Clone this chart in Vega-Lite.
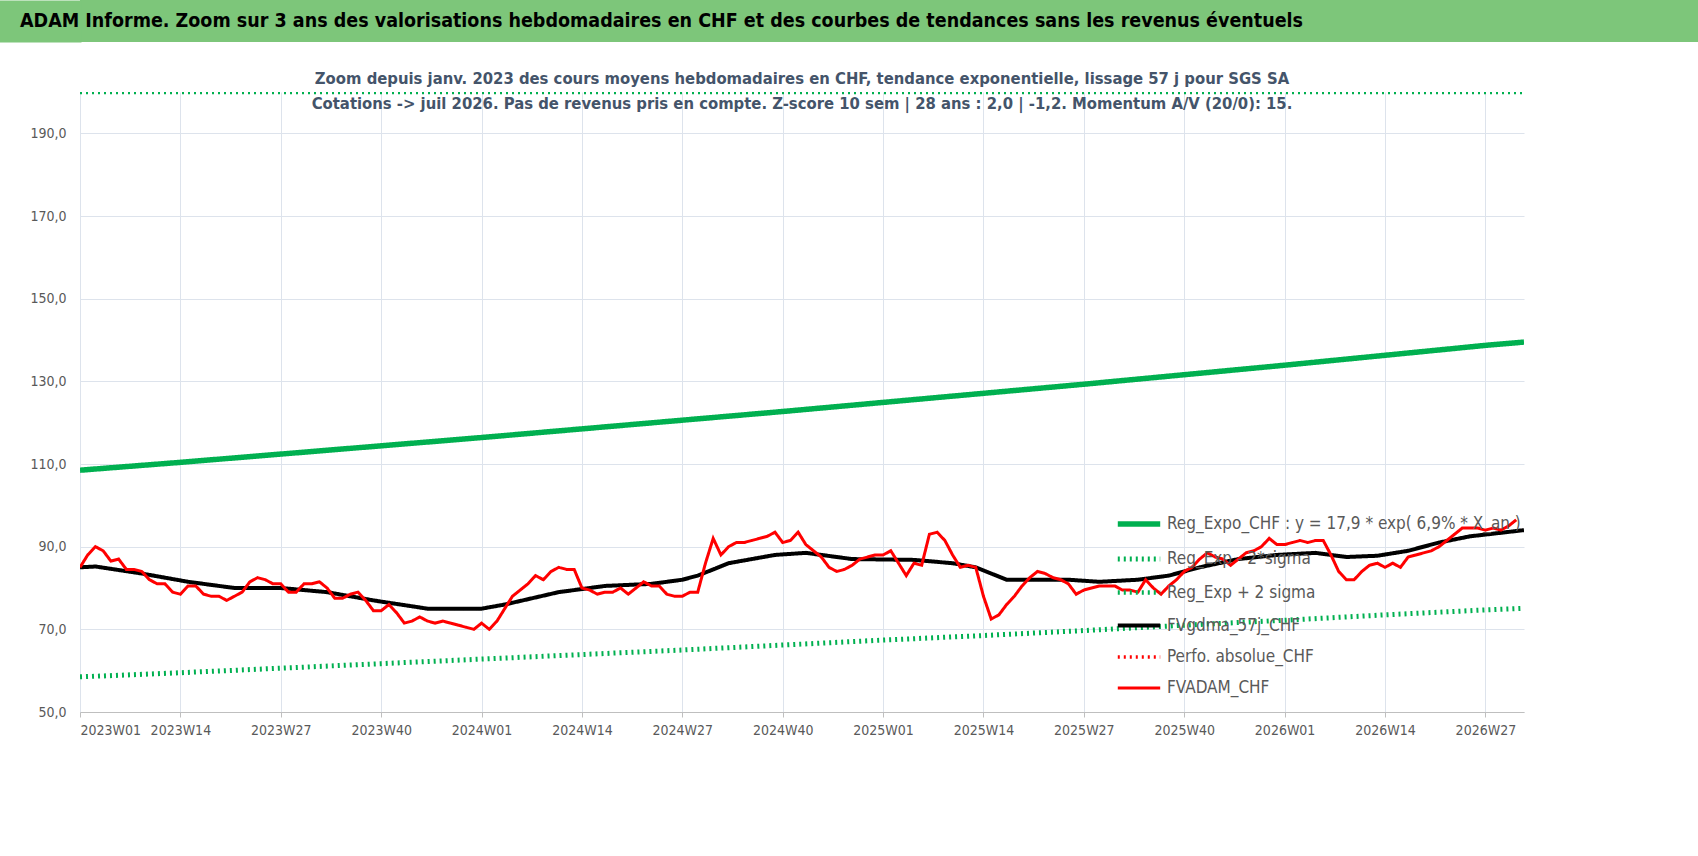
{
  "$schema": "https://vega.github.io/schema/vega-lite/v6.json",
  "background": "white",
  "padding": 0,
  "spacing": 28,
  "config": {
    "font": "Liberation Sans Narrow, DejaVu Sans Condensed, sans-serif",
    "view": {"stroke": null}
  },
  "datasets": {
    "series": [
      {"s":"E","i":0,"v":108.5},{"s":"E","i":13,"v":110.4},{"s":"E","i":26,"v":112.4},{"s":"E","i":39,"v":114.4},{"s":"E","i":52,"v":116.4},{"s":"E","i":65,"v":118.5},{"s":"E","i":78,"v":120.6},{"s":"E","i":91,"v":122.7},{"s":"E","i":104,"v":124.9},{"s":"E","i":117,"v":127.1},{"s":"E","i":130,"v":129.3},{"s":"E","i":143,"v":131.6},{"s":"E","i":156,"v":133.9},{"s":"E","i":169,"v":136.3},{"s":"E","i":182,"v":138.7},{"s":"E","i":187,"v":139.5},
      {"s":"L","i":0,"v":58.5},{"s":"L","i":13,"v":59.5},{"s":"L","i":26,"v":60.6},{"s":"L","i":39,"v":61.7},{"s":"L","i":52,"v":62.8},{"s":"L","i":65,"v":63.9},{"s":"L","i":78,"v":65.0},{"s":"L","i":91,"v":66.2},{"s":"L","i":104,"v":67.4},{"s":"L","i":117,"v":68.5},{"s":"L","i":130,"v":69.7},{"s":"L","i":143,"v":71.0},{"s":"L","i":156,"v":72.2},{"s":"L","i":169,"v":73.5},{"s":"L","i":182,"v":74.7},{"s":"L","i":187,"v":75.1},
      {"s":"U","i":0,"v":201},{"s":"U","i":52,"v":216},{"s":"U","i":104,"v":231},{"s":"U","i":156,"v":248},{"s":"U","i":187,"v":259},
      {"s":"F","i":0,"v":85},{"s":"F","i":2,"v":85.2},{"s":"F","i":8,"v":83.5},{"s":"F","i":14,"v":81.5},{"s":"F","i":20,"v":80},{"s":"F","i":26,"v":80},{"s":"F","i":32,"v":79},{"s":"F","i":38,"v":77},{"s":"F","i":45,"v":75},{"s":"F","i":52,"v":75},{"s":"F","i":55,"v":76},{"s":"F","i":62,"v":79},{"s":"F","i":68,"v":80.5},{"s":"F","i":74,"v":81},{"s":"F","i":78,"v":82},{"s":"F","i":80,"v":83},{"s":"F","i":84,"v":86},{"s":"F","i":90,"v":88},{"s":"F","i":94,"v":88.5},{"s":"F","i":100,"v":87},{"s":"F","i":108,"v":86.8},{"s":"F","i":113,"v":86},{"s":"F","i":116,"v":85},{"s":"F","i":120,"v":82},{"s":"F","i":128,"v":82},{"s":"F","i":132,"v":81.5},{"s":"F","i":137,"v":82},{"s":"F","i":141,"v":83},{"s":"F","i":145,"v":85},{"s":"F","i":150,"v":87},{"s":"F","i":155,"v":88},{"s":"F","i":160,"v":88.5},{"s":"F","i":164,"v":87.5},{"s":"F","i":168,"v":87.8},{"s":"F","i":172,"v":89},{"s":"F","i":176,"v":91},{"s":"F","i":180,"v":92.5},{"s":"F","i":187,"v":94}
    ],
    "adam": [
      {"s":"R","i":0,"v":85},{"s":"R","i":1,"v":88},{"s":"R","i":2,"v":90},{"s":"R","i":3,"v":89},{"s":"R","i":4,"v":86.5},{"s":"R","i":5,"v":87},{"s":"R","i":6,"v":84.5},{"s":"R","i":7,"v":84.5},{"s":"R","i":8,"v":84},{"s":"R","i":9,"v":82},{"s":"R","i":10,"v":81},{"s":"R","i":11,"v":81},{"s":"R","i":12,"v":79},{"s":"R","i":13,"v":78.5},{"s":"R","i":14,"v":80.5},{"s":"R","i":15,"v":80.5},{"s":"R","i":16,"v":78.5},{"s":"R","i":17,"v":78},{"s":"R","i":18,"v":78},{"s":"R","i":19,"v":77},{"s":"R","i":20,"v":78},{"s":"R","i":21,"v":79},{"s":"R","i":22,"v":81.5},{"s":"R","i":23,"v":82.5},{"s":"R","i":24,"v":82},{"s":"R","i":25,"v":81},{"s":"R","i":26,"v":81},{"s":"R","i":27,"v":79},{"s":"R","i":28,"v":79},{"s":"R","i":29,"v":81},{"s":"R","i":30,"v":81},{"s":"R","i":31,"v":81.5},{"s":"R","i":32,"v":80},{"s":"R","i":33,"v":77.5},{"s":"R","i":34,"v":77.5},{"s":"R","i":35,"v":78.5},{"s":"R","i":36,"v":79},{"s":"R","i":37,"v":77},{"s":"R","i":38,"v":74.5},{"s":"R","i":39,"v":74.5},{"s":"R","i":40,"v":76},{"s":"R","i":41,"v":74},{"s":"R","i":42,"v":71.5},{"s":"R","i":43,"v":72},{"s":"R","i":44,"v":73},{"s":"R","i":45,"v":72},{"s":"R","i":46,"v":71.5},{"s":"R","i":47,"v":72},{"s":"R","i":48,"v":71.5},{"s":"R","i":49,"v":71},{"s":"R","i":50,"v":70.5},{"s":"R","i":51,"v":70},{"s":"R","i":52,"v":71.5},{"s":"R","i":53,"v":70},{"s":"R","i":54,"v":72},{"s":"R","i":55,"v":75},{"s":"R","i":56,"v":78},{"s":"R","i":57,"v":79.5},{"s":"R","i":58,"v":81},{"s":"R","i":59,"v":83},{"s":"R","i":60,"v":82},{"s":"R","i":61,"v":84},{"s":"R","i":62,"v":85},{"s":"R","i":63,"v":84.5},{"s":"R","i":64,"v":84.5},{"s":"R","i":65,"v":80},{"s":"R","i":66,"v":79.5},{"s":"R","i":67,"v":78.5},{"s":"R","i":68,"v":79},{"s":"R","i":69,"v":79},{"s":"R","i":70,"v":80},{"s":"R","i":71,"v":78.5},{"s":"R","i":72,"v":80},{"s":"R","i":73,"v":81.5},{"s":"R","i":74,"v":80.5},{"s":"R","i":75,"v":80.5},{"s":"R","i":76,"v":78.5},{"s":"R","i":77,"v":78},{"s":"R","i":78,"v":78},{"s":"R","i":79,"v":79},{"s":"R","i":80,"v":79},{"s":"R","i":81,"v":86},{"s":"R","i":82,"v":92},{"s":"R","i":83,"v":88},{"s":"R","i":84,"v":90},{"s":"R","i":85,"v":91},{"s":"R","i":86,"v":91},{"s":"R","i":87,"v":91.5},{"s":"R","i":88,"v":92},{"s":"R","i":89,"v":92.5},{"s":"R","i":90,"v":93.5},{"s":"R","i":91,"v":91},{"s":"R","i":92,"v":91.5},{"s":"R","i":93,"v":93.5},{"s":"R","i":94,"v":90.5},{"s":"R","i":95,"v":89},{"s":"R","i":96,"v":87.5},{"s":"R","i":97,"v":85},{"s":"R","i":98,"v":84},{"s":"R","i":99,"v":84.5},{"s":"R","i":100,"v":85.5},{"s":"R","i":101,"v":87},{"s":"R","i":102,"v":87.5},{"s":"R","i":103,"v":88},{"s":"R","i":104,"v":88},{"s":"R","i":105,"v":89},{"s":"R","i":106,"v":86},{"s":"R","i":107,"v":83},{"s":"R","i":108,"v":86},{"s":"R","i":109,"v":85.5},{"s":"R","i":110,"v":93},{"s":"R","i":111,"v":93.5},{"s":"R","i":112,"v":91.5},{"s":"R","i":113,"v":88},{"s":"R","i":114,"v":85},{"s":"R","i":115,"v":85.5},{"s":"R","i":116,"v":85},{"s":"R","i":117,"v":78},{"s":"R","i":118,"v":72.5},{"s":"R","i":119,"v":73.5},{"s":"R","i":120,"v":76},{"s":"R","i":121,"v":78},{"s":"R","i":122,"v":80.5},{"s":"R","i":123,"v":82.5},{"s":"R","i":124,"v":84},{"s":"R","i":125,"v":83.5},{"s":"R","i":126,"v":82.5},{"s":"R","i":127,"v":82},{"s":"R","i":128,"v":81},{"s":"R","i":129,"v":78.5},{"s":"R","i":130,"v":79.5},{"s":"R","i":131,"v":80},{"s":"R","i":132,"v":80.5},{"s":"R","i":133,"v":80.5},{"s":"R","i":134,"v":80.5},{"s":"R","i":135,"v":79.5},{"s":"R","i":136,"v":79.5},{"s":"R","i":137,"v":79},{"s":"R","i":138,"v":82},{"s":"R","i":139,"v":80},{"s":"R","i":140,"v":78.5},{"s":"R","i":141,"v":80.5},{"s":"R","i":142,"v":82},{"s":"R","i":143,"v":84},{"s":"R","i":144,"v":85},{"s":"R","i":145,"v":87},{"s":"R","i":146,"v":88.5},{"s":"R","i":147,"v":87.5},{"s":"R","i":148,"v":87},{"s":"R","i":149,"v":85.5},{"s":"R","i":150,"v":87},{"s":"R","i":151,"v":88.5},{"s":"R","i":152,"v":89},{"s":"R","i":153,"v":90},{"s":"R","i":154,"v":92},{"s":"R","i":155,"v":90.5},{"s":"R","i":156,"v":90.5},{"s":"R","i":157,"v":91},{"s":"R","i":158,"v":91.5},{"s":"R","i":159,"v":91},{"s":"R","i":160,"v":91.5},{"s":"R","i":161,"v":91.5},{"s":"R","i":162,"v":88},{"s":"R","i":163,"v":84},{"s":"R","i":164,"v":82},{"s":"R","i":165,"v":82},{"s":"R","i":166,"v":84},{"s":"R","i":167,"v":85.5},{"s":"R","i":168,"v":86},{"s":"R","i":169,"v":85},{"s":"R","i":170,"v":86},{"s":"R","i":171,"v":85},{"s":"R","i":172,"v":87.5},{"s":"R","i":173,"v":88},{"s":"R","i":174,"v":88.5},{"s":"R","i":175,"v":89},{"s":"R","i":176,"v":90},{"s":"R","i":177,"v":91.5},{"s":"R","i":178,"v":93},{"s":"R","i":179,"v":94.5},{"s":"R","i":180,"v":94.5},{"s":"R","i":181,"v":94.5},{"s":"R","i":182,"v":94},{"s":"R","i":183,"v":94.5},{"s":"R","i":184,"v":94},{"s":"R","i":185,"v":95},{"s":"R","i":186,"v":96.5}
    ]
  },
  "vconcat": [
    {
      "width": 1618,
      "height": 42,
      "view": {"fill": "#7dc67a", "stroke": null},
      "data": {"values": [{"t": "ADAM Informe. Zoom sur 3 ans des valorisations hebdomadaires en CHF et des courbes de tendances sans les revenus éventuels"}]},
      "mark": {"type": "text", "align": "left", "baseline": "middle", "fontSize": 19.5, "fontWeight": "bold", "color": "black", "dx": -60},
      "encoding": {
        "text": {"field": "t"},
        "y": {"field": "t", "type": "nominal", "axis": {"title": null, "labels": false, "ticks": false, "domainColor": "#7dc67a", "domainWidth": 82, "offset": 40, "minExtent": 40, "maxExtent": 40}},
        "x": {"value": 0}
      }
    },
    {
      "width": 1444,
      "height": 620,
      "title": {
        "text": ["Zoom depuis janv. 2023 des cours moyens hebdomadaires en CHF, tendance exponentielle, lissage 57 j pour SGS SA", "Cotations -> juil 2026. Pas de revenus pris en compte. Z-score 10 sem | 28 ans : 2,0 | -1,2. Momentum A/V (20/0): 15."],
        "fontSize": 16.5,
        "fontWeight": "bold",
        "color": "#44546a",
        "lineHeight": 25,
        "offset": -20,
        "anchor": "middle"
      },
      "encoding": {
        "x": {
          "field": "i", "type": "quantitative",
          "scale": {"domain": [0, 187], "nice": false, "zero": false},
          "axis": {
            "title": null, "values": [0,13,26,39,52,65,78,91,104,117,130,143,156,169,182],
            "labelExpr": "(2023 + floor(datum.value / 52)) + 'W' + ((datum.value % 52) + 1 < 10 ? '0' : '') + ((datum.value % 52) + 1)",
            "labelFontSize": 14, "labelColor": "#595959", "grid": true, "gridColor": "#dde3ec",
            "domainColor": "#bfbfbf", "tickColor": "#bfbfbf", "labelPadding": 6
          }
        },
        "y": {
          "field": "v", "type": "quantitative",
          "scale": {"domain": [50, 200], "nice": false, "zero": false, "clamp": true},
          "axis": {
            "title": null, "values": [50,70,90,110,130,150,170,190],
            "labelExpr": "replace(format(datum.value, '.1f'), '.', ',')",
            "labelFontSize": 14, "labelColor": "#595959", "grid": true, "gridColor": "#dde3ec",
            "domain": false, "ticks": false, "labelPadding": 14, "minExtent": 80, "maxExtent": 80
          }
        },
        "color": {
          "field": "s", "type": "nominal",
          "scale": {"domain": ["E","L","U","F","P","R"], "range": ["#00b050","#00b050","#00b050","#000000","#ff0000","#ff0000"]},
          "legend": {
            "orient": "none", "legendX": 1035, "legendY": 500, "title": null,
            "symbolType": "stroke", "symbolSize": 1800, "symbolStrokeWidth": 4,
            "labelFontSize": 17, "labelColor": "#595959", "rowPadding": -15, "labelLimit": 400,
            "labelExpr": "datum.label == 'E' ? 'Reg_Expo_CHF : y = 17,9 * exp( 6,9% *  X_an )' : datum.label == 'L' ? 'Reg_Exp - 2*sigma' : datum.label == 'U' ? 'Reg_Exp + 2 sigma' : datum.label == 'F' ? 'FVgdma_57j_CHF' : datum.label == 'P' ? 'Perfo. absolue_CHF' : 'FVADAM_CHF'"
          }
        },
        "strokeDash": {
          "field": "s", "type": "nominal",
          "scale": {"domain": ["E","L","U","F","P","R"], "range": [[1,0],[2,4],[2,4],[1,0],[2,4],[1,0]]},
          "legend": null
        },
        "strokeWidth": {
          "field": "s", "type": "nominal",
          "scale": {"domain": ["E","L","U","F","P","R"], "range": [5.5,3,3,3.5,2.5,4]},
          "legend": null
        }
      },
      "layer": [
        {"data": {"name": "series"}, "mark": {"type": "line", "clip": true}},
        {"data": {"name": "adam"}, "mark": {"type": "line", "clip": true}}
      ]
    }
  ]
}
